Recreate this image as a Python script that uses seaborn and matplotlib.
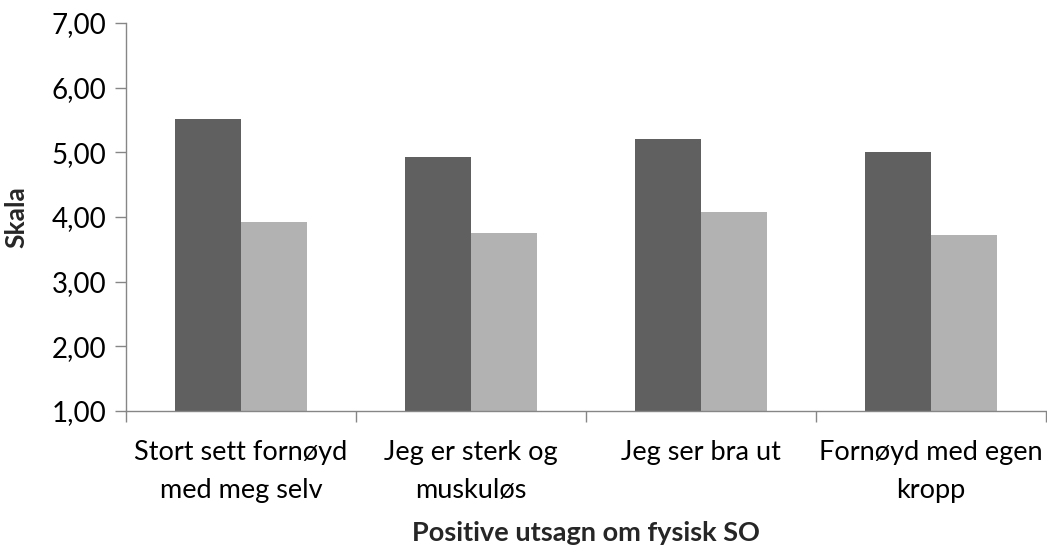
import pandas as pd
import numpy as np
import matplotlib
matplotlib.use("Agg")
import matplotlib.pyplot as plt
import seaborn as sns
from matplotlib.ticker import FuncFormatter, FixedLocator

# Data
categories = ["Stort sett fornøyd\nmed meg selv", "Jeg er sterk og\nmuskuløs",
              "Jeg ser bra ut", "Fornøyd med egen\nkropp"]
series_names = ["Serie 1", "Serie 2"]
serie1 = [5.52, 4.93, 5.21, 5.00]
serie2 = [3.92, 3.75, 4.07, 3.72]

df = pd.DataFrame({
    "kategori": categories * 2,
    "serie": [series_names[0]] * 4 + [series_names[1]] * 4,
    "verdi": serie1 + serie2,
})

sns.set_theme(style="white")
plt.rcParams["font.family"] = ["Lato", "DejaVu Sans"]

fig = plt.figure(figsize=(10.47, 5.45), dpi=100)
ax = fig.add_axes([0.1203, 0.246, 0.879, 0.712])

sns.barplot(data=df, x="kategori", y="verdi", hue="serie",
            palette=["#606060", "#b2b2b2"], width=0.574, saturation=1,
            edgecolor="none", legend=False, ax=ax)

# bars should start from the axis bottom (1,00)
ax.set_ylim(1, 7)
for p in ax.patches:
    h = p.get_height()
    p.set_y(1)
    p.set_height(h - 1)

ax.set_xlim(-0.5, 3.5)
ax.set_yticks(np.arange(1, 8, 1))
ax.yaxis.set_major_formatter(FuncFormatter(lambda v, _: f"{v:.2f}".replace(".", ",")))

ax.xaxis.set_minor_locator(FixedLocator(np.arange(-0.5, 4, 1)))
ax.tick_params(axis="x", which="major", length=0, pad=21, labelsize=19.5, colors="black")
ax.tick_params(axis="x", which="minor", length=8, width=1, color="#868686", bottom=True)
ax.tick_params(axis="y", which="major", length=8, width=1, color="#868686", left=True,
               labelsize=20, pad=6, colors="black")
for lbl in ax.get_xticklabels():
    lbl.set_linespacing(1.65)

for s in ["top", "right"]:
    ax.spines[s].set_visible(False)
for s in ["left", "bottom"]:
    ax.spines[s].set_color("#868686")
    ax.spines[s].set_linewidth(1)

ax.set_xlabel("Positive utsagn om fysisk SO", fontsize=19.5, fontweight="bold", labelpad=13)
ax.set_ylabel("Skala", fontsize=19, fontweight="bold", labelpad=17)

fig.savefig("out.png", dpi=100)
